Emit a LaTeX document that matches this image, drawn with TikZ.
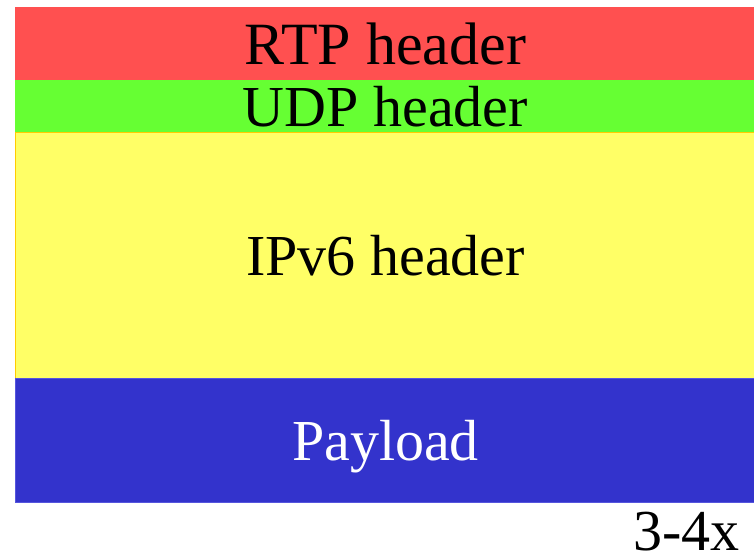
\documentclass[tikz,border=0pt]{standalone}
\usepackage{fontspec}
\setmainfont{Liberation Serif}
\usepackage{tikz}

\definecolor{rtpred}{HTML}{FF5050}
\definecolor{udpgreen}{HTML}{66FF33}
\definecolor{ipyellow}{HTML}{FFFF66}
\definecolor{iporange}{HTML}{FFCC00}
\definecolor{payblue}{HTML}{3333CC}
\definecolor{payedge}{HTML}{5555DD}

\tikzset{layer/.style={anchor=north west, inner sep=0pt, outer sep=0pt,
    minimum width=740pt, line width=1pt,
    font=\fontsize{58}{60}\selectfont}}

\begin{document}
\begin{tikzpicture}[x=1pt,y=-1pt]
                \useasboundingbox (0,0) rectangle (754,553);
                \node[layer, fill=rtpred, draw=rtpred, minimum height=72.5pt,
                    font=\fontsize{60}{62}\selectfont] (rtp) at (15.5,8) {RTP header};
                \node[layer, fill=udpgreen, draw=udpgreen, minimum height=52.5pt] (udp) at (rtp.south west) {UDP header};
                \node[layer, fill=ipyellow, draw=iporange, minimum height=245pt] (ipv6) at (udp.south west) {IPv6 header};
                \node[layer, fill=payblue, draw=payedge, text=white, text depth=0pt, minimum height=124pt] (payload) at (ipv6.south west) {Payload};
                \node[anchor=base east, inner sep=0pt, font=\fontsize{58}{60}\selectfont] (mult) at (740,550) {3-4x};
            \end{tikzpicture}
\end{document}
